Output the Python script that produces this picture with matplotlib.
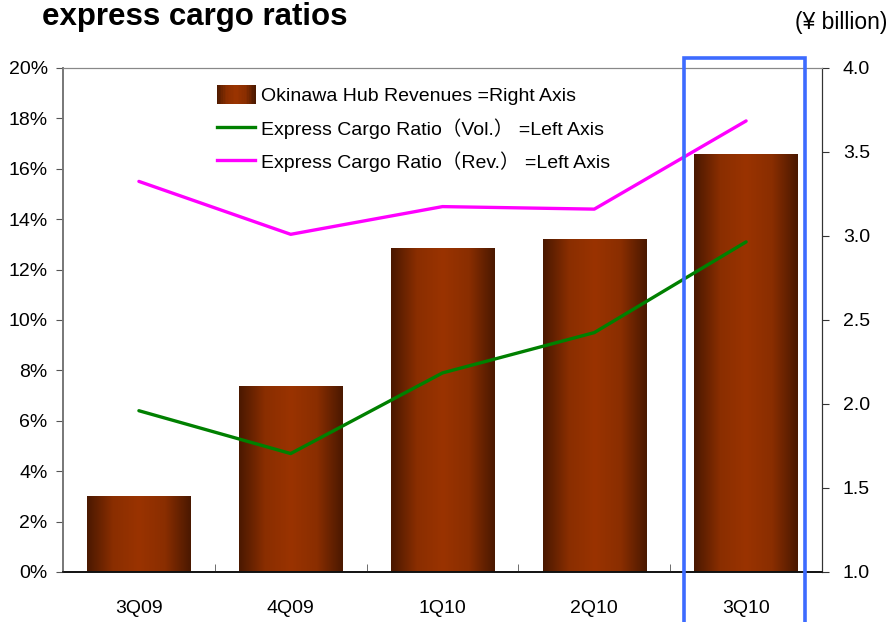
import matplotlib
matplotlib.use("Agg")
import matplotlib.pyplot as plt
import matplotlib.patches as mpatches
import matplotlib.transforms as mtransforms
from matplotlib.colors import LinearSegmentedColormap
from matplotlib.legend_handler import HandlerBase
from matplotlib.lines import Line2D
import numpy as np

# Data
quarters = ["3Q09", "4Q09", "1Q10", "2Q10", "3Q10"]
hub_revenues = [1.45, 2.11, 2.93, 2.98, 3.49]          # right axis, ¥ billion
ratio_vol = [6.4, 4.7, 7.9, 9.5, 13.1]                 # left axis, %
ratio_rev = [15.5, 13.4, 14.5, 14.4, 17.9]             # left axis, %

# Style
TICK_FONT = ["Liberation Sans", "DejaVu Sans"]
BAR_CMAP = LinearSegmentedColormap.from_list(
    "bar", ["#4a1800", "#8a2e00", "#9a3300", "#8a2e00", "#4a1800"])
GREEN = "#008000"
MAGENTA = "#ff00ff"
HILITE = "#3d6bff"


class GradientHandler(HandlerBase):
    """Legend handle drawn as vertical stripes of the bar gradient."""
    def create_artists(self, legend, orig_handle, xdescent, ydescent,
                       width, height, fontsize, trans):
        n = 24
        arts = []
        for i in range(n):
            r = mpatches.Rectangle((-xdescent + width * i / n, -ydescent - 1),
                                   width / n + 0.3, height + 2,
                                   facecolor=BAR_CMAP((i + 0.5) / n),
                                   edgecolor="none", transform=trans)
            arts.append(r)
        return arts


fig = plt.figure(figsize=(8.88, 6.22), dpi=100)
ax = fig.add_axes([63 / 888, 50 / 622, 759 / 888, 504 / 622])
ax2 = ax.twinx()

x = np.arange(len(quarters))

# bars on right axis with horizontal gradient
bars = ax2.bar(x, np.array(hub_revenues) - 1.0, bottom=1.0, width=0.68,
               color="none", edgecolor="none", zorder=1)
grad = np.linspace(0, 1, 256).reshape(1, -1)
for b in bars:
    x0, y0 = b.get_x(), b.get_y()
    im = ax2.imshow(grad, cmap=BAR_CMAP, aspect="auto", zorder=1,
                    extent=[x0, x0 + b.get_width(), y0, y0 + b.get_height()])
    im.set_clip_path(b)

# lines on left axis, drawn above bars
ax.set_zorder(ax2.get_zorder() + 1)
ax.patch.set_visible(False)
ax.plot(x, ratio_vol, color=GREEN, linewidth=2.4, solid_capstyle="round", zorder=3)
ax.plot(x, ratio_rev, color=MAGENTA, linewidth=2.4, solid_capstyle="round", zorder=3)

ax.set_xlim(-0.5, len(quarters) - 0.5)
ax.set_ylim(0, 20)
ax2.set_ylim(1.0, 4.0)
ax.set_yticks(np.arange(0, 21, 2))
ax.set_yticklabels([f"{v}%" for v in range(0, 21, 2)])
ax2.set_yticks(np.arange(1.0, 4.01, 0.5))
ax2.set_yticklabels([f"{v:.1f}" for v in np.arange(1.0, 4.01, 0.5)])
ax.set_xticks(x)
ax.set_xticklabels(quarters)
ax.set_xticks(np.arange(0.5, len(quarters) - 0.5, 1), minor=True)

ax.tick_params(axis="x", which="major", length=0, pad=20, labelsize=14)
ax.tick_params(axis="x", which="minor", direction="in", length=6, color="#555555")
ax.tick_params(axis="y", direction="out", length=5, labelsize=14, pad=6, color="#555555")
ax2.tick_params(axis="y", direction="out", length=5, labelsize=14, pad=10, color="#333333")
for lab in ax.get_xticklabels() + ax.get_yticklabels() + ax2.get_yticklabels():
    lab.set_family(TICK_FONT)

for a in (ax, ax2):
    a.spines["top"].set_color("#888888")
    a.spines["left"].set_color("#777777")
    a.spines["bottom"].set_color("#111111")
    a.spines["right"].set_color("#333333")
    a.spines["left"].set_linewidth(1.2)
    a.spines["bottom"].set_linewidth(1.2)

# legend
handles = [mpatches.Patch(label="Okinawa Hub Revenues =Right Axis"),
           Line2D([], [], color=GREEN, linewidth=2.4, label="Express Cargo Ratio（Vol.） =Left Axis"),
           Line2D([], [], color=MAGENTA, linewidth=2.4, label="Express Cargo Ratio（Rev.） =Left Axis")]
leg = ax.legend(handles=handles, loc="upper left", bbox_to_anchor=(199 / 888, 1 - 69 / 622),
                bbox_transform=fig.transFigure, frameon=False, handlelength=2.0,
                handleheight=0.9, handletextpad=0.3, labelspacing=0.65,
                handler_map={mpatches.Patch: GradientHandler()},
                prop={"family": TICK_FONT + ["Noto Sans CJK JP"], "size": 14})

# highlight box around the latest quarter
trans = mtransforms.blended_transform_factory(ax.transData, ax.transAxes)
box = mpatches.Rectangle((3.59, -0.2), 0.8, 1.22, transform=trans, fill=False,
                         edgecolor=HILITE, linewidth=2.6, clip_on=False, zorder=5)
ax.add_patch(box)

fig.text(42 / 888, 1 - 17 / 622, "express cargo ratios", fontsize=22.5, fontweight="bold",
         family=["Liberation Sans", "DejaVu Sans"], va="center", ha="left")
fig.text(887 / 888, 1 - 23 / 622, "(¥ billion)", fontsize=16.5,
         family=["Liberation Sans", "DejaVu Sans"], va="center", ha="right")

fig.savefig("out.png", dpi=100)
